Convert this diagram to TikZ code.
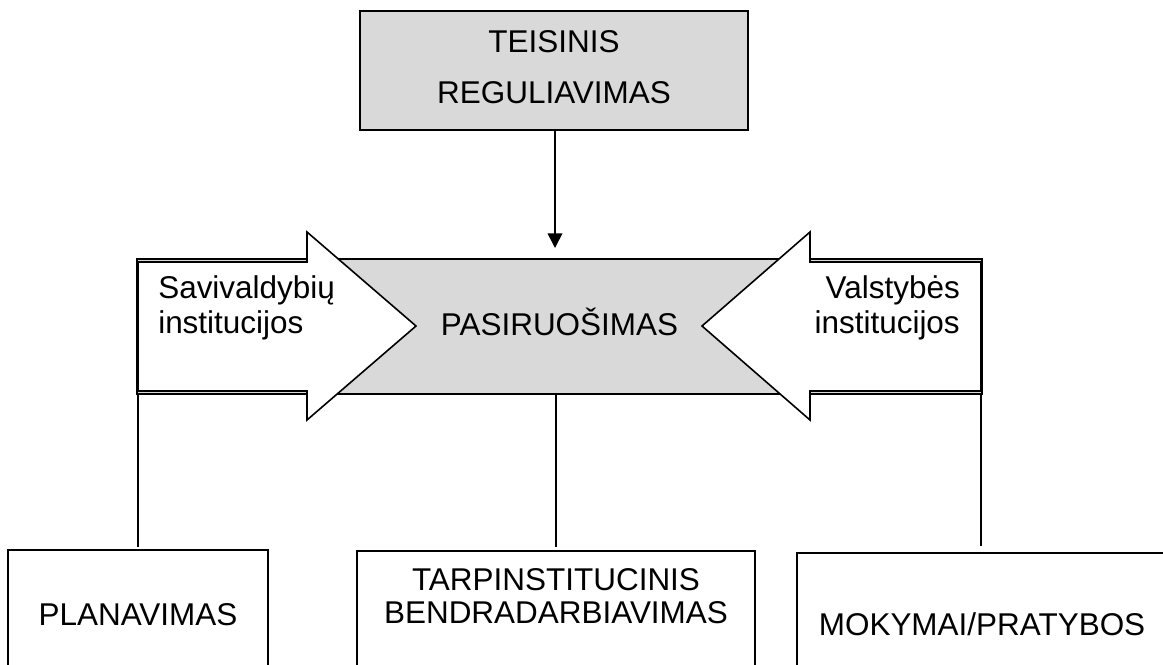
\documentclass[tikz,border=0pt]{standalone}
\usepackage{fontspec}
\setmainfont{Liberation Sans}
\usetikzlibrary{arrows.meta}
\definecolor{boxgray}{RGB}{217,217,217}
\tikzset{
  box/.style={draw=black, line width=1.2pt, rectangle, inner sep=0pt},
  lbl/.style={inner sep=0pt, font=\fontsize{23.6}{28}\selectfont, anchor=base},
  lblw/.style={lbl, anchor=base west},
  lble/.style={lbl, anchor=base east},
  conn/.style={draw=black, line width=1.2pt},
  bigarrow/.style={draw=black, line width=1.2pt, fill=white, line join=miter},
  tip/.style={-{Triangle[length=11pt,width=11pt]}}
}
\begin{document}
\begin{tikzpicture}[x=0.75pt,y=-0.75pt]
\useasboundingbox (0,0) rectangle (1163,664);
\fill[white] (0,0) rectangle (1163,664);
% top box
\node[box, fill=boxgray, minimum width=388*0.75pt, minimum height=119*0.75pt] (teis) at (554,70.5) {};
\node[lbl] (teis1) at (554,52) {TEISINIS};
\node[lbl] (teis2) at (554,103) {REGULIAVIMAS};
% central gray box
\node[box, fill=boxgray, minimum width=845*0.75pt, minimum height=135*0.75pt] (pas) at (559.5,326.5) {};
% arrow
\coordinate (atip) at (555,248);
\draw[conn, tip] (teis.south -| atip) -- (atip);
% big arrows
\draw[bigarrow] (138,262) -- (307,262) -- (307,232) -- (416,326) -- (307,420) -- (307,391) -- (138,391) -- cycle;
\draw[bigarrow] (981,262) -- (810,262) -- (810,232) -- (702,326) -- (810,420) -- (810,391) -- (981,391) -- cycle;
\node[lbl] (pastxt) at (559.5,335) {PASIRUOŠIMAS};
\node[lblw] (sav1) at (158,298) {Savivaldybių};
\node[lblw] (sav2) at (158,333) {institucijos};
\node[lble] (val1) at (960,298) {Valstybės};
\node[lble] (val2) at (960,333) {institucijos};
% bottom boxes
\node[box, minimum width=260*0.75pt, minimum height=160*0.75pt] (plan) at (138,630) {};
\node[box, minimum width=398*0.75pt, minimum height=160*0.75pt] (tarp) at (556,631) {};
\node[box, minimum width=378*0.75pt, minimum height=160*0.75pt] (mok) at (986,633) {};
\node[lbl] (plantxt) at (138,625) {PLANAVIMAS};
\node[lbl] (tarp1) at (556,590) {TARPINSTITUCINIS};
\node[lbl] (tarp2) at (556,623) {BENDRADARBIAVIMAS};
\node[lbl] (moktxt) at (982,635) {MOKYMAI/PRATYBOS};
% connectors
\coordinate (c1) at (138,547);
\coordinate (c2) at (556,547);
\coordinate (c3) at (981,546);
\draw[conn] (pas.south -| c1) -- (c1);
\draw[conn] (pas.south -| c2) -- (c2);
\draw[conn] (pas.south -| c3) -- (c3);
\end{tikzpicture}
\end{document}
